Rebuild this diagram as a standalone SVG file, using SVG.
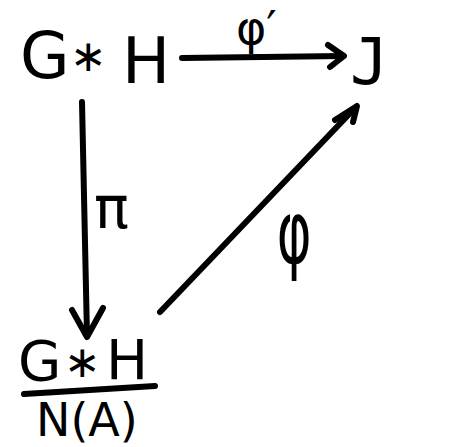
<svg xmlns="http://www.w3.org/2000/svg" width="457" height="447" viewBox="0 0 457 447">
<style>
text{font-family:"DejaVu Sans","Noto Sans",sans-serif;fill:#000}
.n{font-size:64px}
.q{font-size:56px}
.d{font-size:46px}
.ast{font-size:44px}
.ln{fill:none;stroke:#000;stroke-width:6;stroke-linecap:round;stroke-linejoin:round}
</style>
<rect width="457" height="447" fill="#fff"/>
<g id="node-GH">
<text class="n" x="20" y="78">G</text>
<text class="ast" x="70" y="71">∗</text>
<text class="n" x="122" y="83">H</text>
</g>
<g id="node-J">
<text class="n" x="350" y="84" style="font-family:'DejaVu Sans Mono',monospace">J</text>
</g>
<g id="node-quotient">
<text class="q" x="18" y="380">G</text>
<text class="ast" x="64" y="377" font-size="40">∗</text>
<text class="q" x="106" y="379">H</text>
<path class="ln" d="M24 394 L155 386"/>
<text class="d" x="36" y="436">N(A)</text>
</g>
<g id="connectors">
<path class="ln" d="M182 58 L343 56"/>
<polyline class="ln" points="328,45 344,56 330,67"/>
<path class="ln" d="M82 102 L87 336"/>
<polyline class="ln" points="72,310 87,337 103,308"/>
<path class="ln" d="M160 312 L355 108"/>
<polyline class="ln" points="335,120 357,106 353,122"/>
<text x="236" y="44" font-size="46">φ′</text>
<text x="94" y="228" font-size="58">π</text>
<text x="270" y="263" font-size="88" transform="translate(287 0) scale(0.6 1) translate(-287 0)">φ</text>
</g>
</svg>
